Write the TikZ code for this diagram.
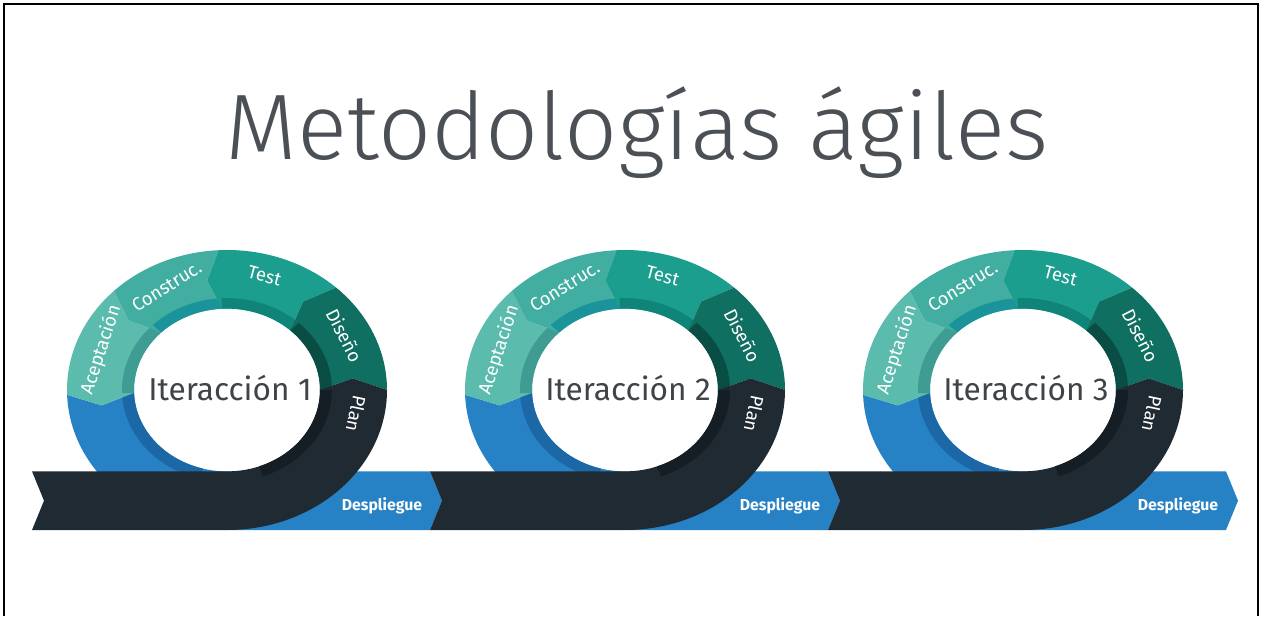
\documentclass[tikz,border=0pt]{standalone}
\usepackage{fontspec}
\setmainfont{Fira Sans}
\newfontfamily\titlefont{Fira Sans Light}

\definecolor{cAcep}{HTML}{5BBCAE}
\definecolor{cCons}{HTML}{42AEA2}
\definecolor{cTest}{HTML}{1C9E8E}
\definecolor{cDise}{HTML}{0F6F61}
\definecolor{cPlan}{HTML}{1F2A33}
\definecolor{cDesp}{HTML}{2782C5}
\definecolor{sAcep}{HTML}{3E9C92}
\definecolor{sCons}{HTML}{1A939A}
\definecolor{sTest}{HTML}{0F8579}
\definecolor{sDise}{HTML}{0A4D44}
\definecolor{sPlan}{HTML}{161E25}
\definecolor{sDesp}{HTML}{1C68A6}
\definecolor{txtgris}{HTML}{4B5056}

% tramo del anillo: angulo inicial, angulo final, color
\newcommand{\ringseg}[3]{%
  \fill[#3] (#1:93) -- ({#1+6}:126.5) -- (#1:160)
    arc[start angle=#1, end angle=#2, radius=160] -- ({#2+6}:126.5) -- (#2:93)
    arc[start angle=#2, end angle=#1, radius=93] -- cycle;}
% sombra interior del tramo
\newcommand{\ringshade}[3]{%
  \fill[#3] (#1:93) arc[start angle=#1, end angle=#2, radius=93] -- (#2:105)
    arc[start angle=#2, end angle=#1, radius=105] -- cycle;}

\tikzset{
  title_txt/.style = {text=txtgris, font=\titlefont\fontsize{53}{60}\selectfont, inner sep=0pt, anchor=base},
  iter_txt/.style = {text=txtgris!85!black, font=\fontsize{18}{21}\selectfont, inner sep=0pt},
  seg_txt/.style = {white, font=\fontsize{10.5}{12}\selectfont, inner sep=0pt},% nombre de fase
  desp_txt/.style = {white, font=\bfseries\fontsize{9}{11}\selectfont, inner sep=0pt}
}

\begin{document}
\begin{tikzpicture}[x=0.02cm, y=0.02cm]
  \useasboundingbox (0,0) rectangle (1261,616);
  \draw[line width=1.1pt] (4,0) -- (4,612) -- (1258,612) -- (1258,0);
  \node[title_txt] (titulo) at (637,456) {Metodologías ágiles};

  \foreach \i in {1,2,3}{
    \begin{scope}[shift={({227+398*(\i-1)},226)}, yscale=0.875]
      % despliegue
      \fill[cDesp] (182:93) -- (188:126.5) -- (182:160)
        arc[start angle=182, end angle=270, radius=160] -- (203,-160)
        -- (215,-126.5) -- (203,-93) -- (270:93)
        arc[start angle=270, end angle=182, radius=93] -- cycle;
      \ringshade{182}{255}{sDesp}
      \ringseg{135}{182}{cAcep}
      \ringshade{135}{182}{sAcep}
      \ringseg{93}{135}{cCons}
      \ringshade{93}{135}{sCons}
      \ringseg{47}{93}{cTest}
      \ringshade{47}{93}{sTest}
      \ringseg{0}{47}{cDise}
      \ringshade{0}{47}{sDise}
      % plan y cinta
      \fill[cPlan] (0:93) -- (6:126.5) -- (0:160)
        arc[start angle=0, end angle=-90, radius=160] -- (-195,-160)
        -- (-183,-126.5) -- (-195,-93) -- (-90:93)
        arc[start angle=-90, end angle=0, radius=93] -- cycle;
      \ringshade{-70}{0}{sPlan}

      \node[seg_txt, rotate=72] (acep\i) at (160:134) {Aceptación};
      \node[seg_txt, rotate=32] (cons\i) at (117:133) {Construc.};
      \node[seg_txt, rotate=-15] (test\i) at (74:136) {Test};
      \node[seg_txt, rotate=-63] (dise\i) at (28:133) {Diseño};
      \node[seg_txt, rotate=-102] (plan\i) at (-12:132) {Plan};
      \node[desp_txt] (desp\i) at (155,-132) {Despliegue};
      \node[iter_txt] (iter\i) at (3,2) {Iteracción \i};
    \end{scope}
  }
\end{tikzpicture}
\end{document}
